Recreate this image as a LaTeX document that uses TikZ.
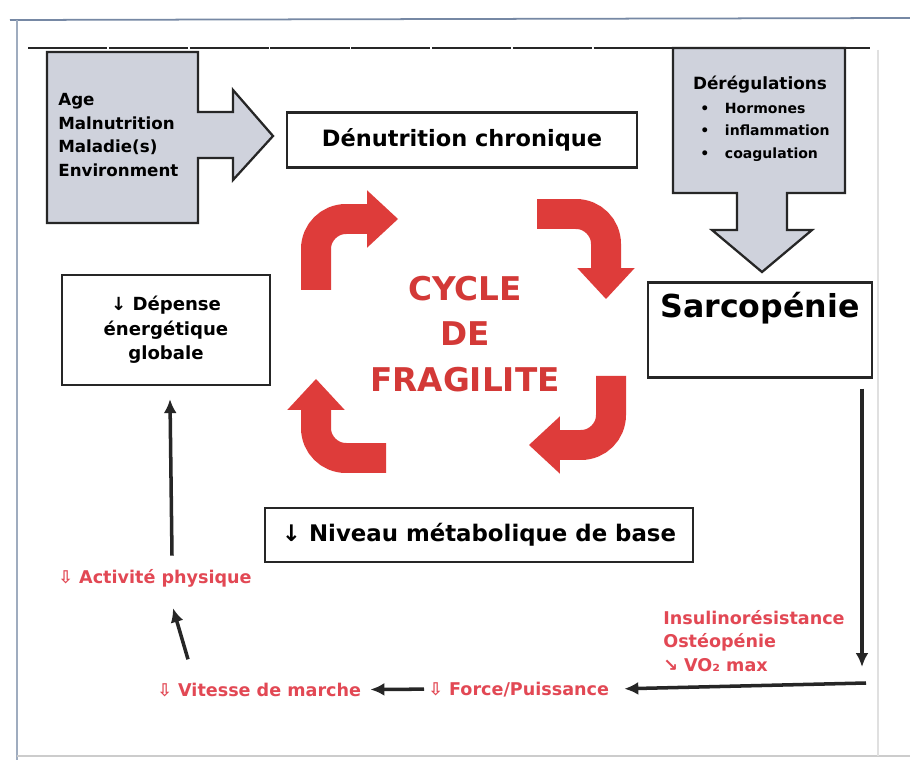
\documentclass[tikz,border=0pt]{standalone}
\usepackage{fontspec}
\setmainfont{DejaVu Sans}
\usepackage{xcolor}
\usepackage{tikz}
\usetikzlibrary{arrows.meta}
\definecolor{rouge}{RGB}{222,60,58}
\definecolor{rougetxt}{RGB}{226,72,84}
\definecolor{grisfond}{RGB}{207,210,220}
\definecolor{cadre}{RGB}{118,136,164}
\definecolor{encre}{RGB}{38,38,38}

\begin{document}
\begin{tikzpicture}[x=0.02cm, y=-0.02cm,
    boite/.style={draw=encre, line width=1.3pt, fill=white, inner sep=2pt},
    fleche/.style={draw=encre, line width=2pt, -{Latex[length=2.8mm, width=2.6mm]}},
    tourne/.style={draw=rouge, line width=0.6cm, rounded corners=0.6cm,
      -{Triangle[length=0.62cm, width=1.15cm, line width=0pt]}},
    rougelbl/.style={text=rougetxt, inner sep=0pt, align=left,
      font=\fontsize{10}{13.3}\selectfont\bfseries}]
  \fill[white] (0,0) rectangle (910,760);
  \useasboundingbox (0,0) rectangle (910,760);

  % cadre de la page
  \draw[cadre, line width=1pt] (10,20) -- (910,18);
  \draw[cadre!70, line width=1pt] (17,20) -- (17,760);
  \draw[black!20, line width=1pt] (17,756) -- (910,756);
  \draw[black!12, line width=1.5pt] (878,50) -- (878,756);
  \draw[encre, line width=0.9pt, dash pattern=on 45pt off 1pt] (28,48) -- (870,48);

  % facteurs (fleche grise a gauche)
  \filldraw[fill=grisfond, draw=encre, line width=1.3pt]
    (47,52) -- (198,52) -- (198,112) -- (233,112) -- (233,90) -- (273,136)
    -- (233,180) -- (233,158) -- (198,158) -- (198,223) -- (47,223) -- cycle;
  \node[anchor=west, align=left, inner sep=0pt,
    font=\fontsize{9.5}{13.4}\selectfont\bfseries] (facteurs) at (58,135)
    {Age\\Malnutrition\\Maladie(s)\\Environment};

  % dérégulations (fleche grise a droite)
  \filldraw[fill=grisfond, draw=encre, line width=1.3pt]
    (673,48) -- (845,48) -- (845,193) -- (787,193) -- (787,230) -- (812,230)
    -- (762,272) -- (712,230) -- (737,230) -- (737,193) -- (673,193) -- cycle;
  \node[font=\fontsize{9.6}{12}\selectfont\bfseries] (dereg) at (760,85) {Dérégulations};
  \node[anchor=west, align=left, inner sep=0pt,
    font=\fontsize{8}{12.8}\selectfont\bfseries] (dereglist) at (700,132)
    {\makebox[14pt][l]{•}Hormones\\\makebox[14pt][l]{•}inflammation\\\makebox[14pt][l]{•}coagulation};

  % boites
  \node[boite, minimum width=7cm, minimum height=1.1cm,
    font=\fontsize{12.8}{15}\selectfont\bfseries] (denut) at (462,140) {Dénutrition chronique};
  \node[boite, minimum width=4.48cm, minimum height=1.9cm] (sarco) at (760,330) {};
  \node[anchor=base, inner sep=0pt, font=\fontsize{18}{20}\selectfont\bfseries]
    (sarcotxt) at (760,317) {Sarcopénie};
  \node[boite, minimum width=4.16cm, minimum height=2.2cm, align=center,
    font=\fontsize{10.3}{13.9}\selectfont\bfseries] (depense) at (166,330)
    {↓ Dépense\\énergétique\\globale};
  \node[boite, minimum width=8.56cm, minimum height=1.08cm,
    font=\fontsize{13}{15}\selectfont\bfseries] (niveau) at (479,535)
    {↓ Niveau métabolique de base};

  % cycle de fragilite
  \node[text=rouge!95!black, align=center,
    font=\fontsize{18.6}{26}\selectfont\bfseries] (cycle) at (465,334)
    {CYCLE\\DE\\FRAGILITE};
  \draw[tourne] (316,290) -- (316,219) -- (398,219);
  \draw[tourne] (537,214) -- (606,214) -- (606,299);
  \draw[tourne] (611,376) -- (611,445) -- (529,445);
  \draw[tourne] (386,458) -- (316,458) -- (316,379);

  % consequences
  \node[rougelbl, anchor=west] (troubles) at (663,641)
    {Insulinorésistance\\Ostéopénie\\↘ VO₂ max};
  \node[rougelbl, anchor=base west] (force) at (428,695) {⇩ Force/Puissance};
  \node[rougelbl, anchor=base west] (vitesse) at (157,696) {⇩ Vitesse de marche};
  \node[rougelbl, anchor=base west] (activite) at (58,583) {⇩ Activité physique};

  \coordinate (coude) at (862,667);
  \coordinate (depart) at (866,683);
  \draw[fleche] ([yshift=-0.2cm]sarco.south -| coude) -- (coude);
  \draw[fleche, shorten >=0.3cm] (depart) -- (force.east);
  \draw[fleche, shorten <=0.08cm, shorten >=0.18cm] (force.west) -- (vitesse.east);
  \draw[fleche] ([shift={(31,-23)}]vitesse.north west) -- ([shift={(115,21)}]activite.south west);
  \draw[fleche] ([shift={(114,-13)}]activite.north west) -- ([shift={(4,13)}]depense.south);
\end{tikzpicture}
\end{document}
